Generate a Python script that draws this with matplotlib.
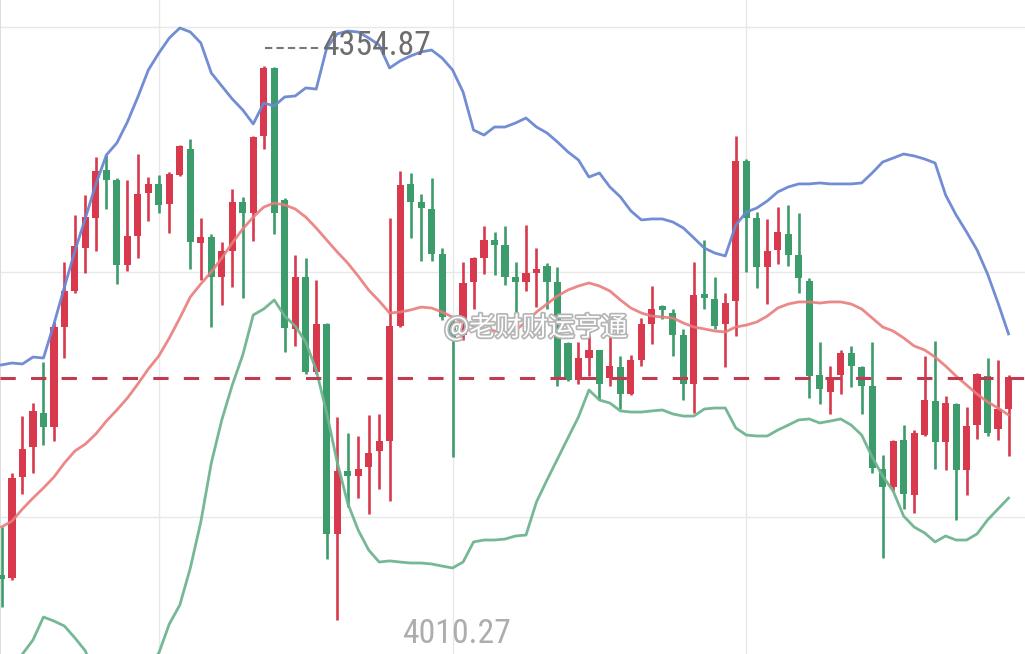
import matplotlib
matplotlib.use("Agg")
import matplotlib.pyplot as plt
import matplotlib.patheffects as pe
from matplotlib import font_manager
import numpy as np

# K线数据 (开/收/高/低), 读自原图
opens = [4038.4, 4036.5, 4099.3, 4118.0, 4139.1, 4130.4, 4192.6, 4215.0, 4241.7, 4260.4,
         4290.3, 4284.0, 4231.2, 4249.2, 4276.0, 4281.6, 4269.1, 4287.1, 4303.3, 4244.9,
         4248.6, 4223.7, 4239.9, 4270.4, 4263.5, 4311.4, 4353.7, 4271.6, 4191.4, 4223.7,
         4164.6, 4194.5, 4063.9, 4103.0, 4099.9, 4105.5, 4115.5, 4121.7, 4193.2, 4281.6,
         4270.4, 4266.0, 4238.0, 4195.7, 4187.6, 4220.6, 4235.5, 4246.7, 4243.6, 4223.7,
         4220.6, 4226.2, 4230.5, 4220.6, 4182.7, 4159.6, 4173.3, 4178.3, 4160.9, 4167.7,
         4150.9, 4172.1, 4194.5, 4205.7, 4201.3, 4187.6, 4157.2, 4213.1, 4210.0, 4194.5,
         4208.8, 4295.9, 4260.4, 4229.9, 4240.5, 4250.5, 4237.4, 4221.2, 4162.7, 4152.2,
         4162.7, 4176.4, 4167.7, 4155.9, 4104.3, 4093.1, 4122.3, 4088.1, 4125.4, 4146.6,
         4121.1, 4144.7, 4103.7, 4131.6, 4162.1, 4129.2, 4141.6]
closes = [4035.9, 4098.7, 4116.7, 4140.4, 4130.4, 4192.6, 4215.0, 4243.0, 4261.0, 4289.6,
          4284.0, 4231.2, 4249.2, 4275.3, 4281.6, 4268.5, 4287.8, 4305.2, 4245.5, 4248.6,
          4223.7, 4239.9, 4270.4, 4263.5, 4310.8, 4353.7, 4263.5, 4192.0, 4223.7, 4164.6,
          4194.5, 4063.9, 4103.0, 4099.9, 4104.3, 4114.2, 4121.7, 4193.2, 4280.9, 4270.4,
          4266.6, 4238.0, 4198.8, 4186.4, 4220.0, 4235.5, 4246.7, 4243.6, 4223.7, 4220.6,
          4226.2, 4228.7, 4220.6, 4160.9, 4159.6, 4173.3, 4178.3, 4157.2, 4168.3, 4150.9,
          4172.1, 4194.5, 4203.8, 4203.2, 4187.6, 4157.2, 4212.5, 4210.6, 4193.2, 4207.5,
          4295.9, 4260.4, 4229.9, 4239.9, 4251.7, 4237.4, 4223.1, 4162.1, 4154.0, 4161.5,
          4176.4, 4168.3, 4155.9, 4104.9, 4093.1, 4121.7, 4088.7, 4126.7, 4147.2, 4121.1,
          4145.3, 4103.7, 4131.0, 4163.4, 4126.7, 4141.6, 4161.5]
highs = [4068.2, 4101.8, 4137.2, 4145.3, 4170.8, 4195.7, 4233.0, 4262.3, 4274.7, 4298.3,
         4299.6, 4285.3, 4284.0, 4300.2, 4285.9, 4287.1, 4289.0, 4305.8, 4309.5, 4260.4,
         4250.5, 4245.5, 4278.4, 4273.5, 4311.4, 4354.87, 4354.3, 4272.8, 4237.4, 4235.5,
         4221.8, 4195.1, 4136.6, 4126.7, 4124.8, 4137.9, 4138.5, 4260.4, 4289.6, 4288.4,
         4275.3, 4285.3, 4241.7, 4198.8, 4233.0, 4236.1, 4255.4, 4251.7, 4255.4, 4233.0,
         4256.0, 4241.7, 4232.4, 4229.9, 4183.3, 4183.3, 4188.3, 4178.3, 4188.3, 4174.6,
         4175.2, 4198.2, 4218.1, 4206.3, 4203.8, 4191.4, 4233.0, 4246.7, 4223.7, 4213.8,
         4311.4, 4297.1, 4264.1, 4259.8, 4267.2, 4268.5, 4263.5, 4223.1, 4183.3, 4168.3,
         4178.3, 4180.8, 4168.3, 4183.3, 4113.0, 4122.3, 4131.6, 4128.5, 4174.6, 4183.9,
         4149.7, 4145.3, 4142.8, 4164.0, 4173.3, 4172.1, 4162.7]
lows = [4018.4, 4035.2, 4088.7, 4101.8, 4119.2, 4121.7, 4173.3, 4213.8, 4226.2, 4239.9,
        4266.0, 4219.4, 4227.4, 4235.5, 4258.5, 4263.5, 4251.1, 4286.5, 4228.7, 4221.8,
        4192.6, 4206.3, 4217.5, 4210.6, 4246.1, 4303.3, 4250.5, 4177.1, 4180.8, 4163.4,
        4163.4, 4048.3, 4010.27, 4080.6, 4086.2, 4076.3, 4091.8, 4084.4, 4192.6, 4248.0,
        4233.7, 4233.7, 4197.0, 4111.7, 4184.5, 4203.8, 4225.6, 4224.9, 4218.7, 4201.3,
        4215.0, 4205.0, 4203.8, 4155.9, 4159.0, 4157.2, 4162.1, 4147.2, 4155.9, 4141.6,
        4150.3, 4168.3, 4182.0, 4197.6, 4174.6, 4147.2, 4139.1, 4203.8, 4191.4, 4167.7,
        4187.0, 4226.8, 4216.9, 4206.9, 4231.8, 4230.5, 4213.8, 4148.4, 4144.7, 4138.5,
        4150.9, 4155.3, 4138.5, 4101.8, 4048.9, 4090.6, 4079.4, 4076.9, 4124.8, 4104.3,
        4103.7, 4072.6, 4088.1, 4122.9, 4124.8, 4122.3, 4112.4]

# 布林带 上轨/中轨/下轨
upper = [4169.0, 4170.2, 4169.6, 4173.9, 4173.3, 4194.5, 4217.5, 4239.9, 4260.4, 4281.6,
         4299.6, 4307.1, 4320.1, 4335.7, 4352.5, 4363.0, 4372.4, 4378.6, 4376.1, 4369.3,
         4350.6, 4342.5, 4334.4, 4327.6, 4318.9, 4331.9, 4330.1, 4335.7, 4336.3, 4341.3,
         4340.6, 4366.1, 4374.9, 4376.7, 4376.1, 4372.4, 4368.0, 4353.7, 4358.1, 4361.2,
         4363.7, 4364.9, 4359.9, 4352.5, 4338.8, 4315.1, 4312.0, 4317.0, 4317.0, 4319.5,
         4322.6, 4317.0, 4313.3, 4307.7, 4301.5, 4296.5, 4285.9, 4288.4, 4279.7, 4273.5,
         4264.8, 4259.2, 4259.8, 4259.8, 4257.9, 4254.2, 4248.0, 4241.7, 4238.6, 4236.8,
         4256.0, 4264.1, 4266.6, 4271.0, 4276.6, 4279.7, 4281.6, 4281.6, 4282.2, 4281.6,
         4281.6, 4281.6, 4282.2, 4288.4, 4295.2, 4297.7, 4300.2, 4299.0, 4297.1, 4294.6,
         4274.7, 4262.3, 4251.7, 4240.5, 4225.6, 4207.5, 4188.3]
mid = [4068.2, 4071.9, 4079.4, 4086.2, 4092.5, 4099.3, 4108.0, 4115.5, 4119.8, 4126.1,
       4134.1, 4141.0, 4148.4, 4157.2, 4166.5, 4174.6, 4185.8, 4198.2, 4211.3, 4219.4,
       4226.8, 4235.5, 4244.9, 4253.6, 4261.0, 4267.2, 4269.7, 4268.5, 4266.0, 4261.0,
       4254.2, 4246.7, 4239.3, 4232.4, 4224.3, 4215.6, 4208.8, 4201.3, 4201.9, 4203.2,
       4205.0, 4204.4, 4201.9, 4198.8, 4195.7, 4193.2, 4192.0, 4190.1, 4189.5, 4190.7,
       4195.7, 4201.9, 4206.9, 4211.9, 4215.6, 4218.1, 4220.0, 4218.1, 4215.0, 4209.4,
       4204.4, 4201.3, 4199.4, 4198.8, 4198.2, 4195.1, 4192.6, 4191.4, 4190.1, 4189.5,
       4192.6, 4193.8, 4195.7, 4199.4, 4204.4, 4206.9, 4208.2, 4208.2, 4207.5, 4208.2,
       4208.2, 4206.9, 4203.8, 4198.2, 4192.6, 4190.1, 4185.8, 4180.8, 4178.3, 4173.9,
       4168.3, 4162.1, 4156.5, 4150.9, 4146.0, 4142.2, 4137.9]
lower = [3967.4, 3973.7, 3989.2, 3997.9, 4012.2, 4009.7, 4006.6, 3999.2, 3991.1, 3973.0,
         3966.8, 3969.9, 3973.0, 3978.0, 3982.4, 3989.8, 4007.9, 4019.7, 4042.7, 4071.3,
         4108.0, 4134.8, 4156.5, 4175.2, 4200.1, 4203.8, 4209.4, 4199.4, 4193.2, 4183.3,
         4165.9, 4139.1, 4108.6, 4083.1, 4066.3, 4053.9, 4046.4, 4047.1, 4046.4, 4045.8,
         4045.8, 4045.2, 4043.9, 4042.7, 4046.4, 4058.9, 4060.1, 4060.1, 4060.7, 4062.6,
         4063.2, 4083.8, 4097.4, 4110.5, 4123.6, 4136.6, 4153.4, 4147.2, 4145.3, 4140.4,
         4139.7, 4139.7, 4140.4, 4141.0, 4138.5, 4137.2, 4137.2, 4141.6, 4142.2, 4142.2,
         4129.8, 4125.4, 4124.8, 4124.8, 4128.5, 4131.6, 4134.8, 4135.4, 4132.9, 4134.1,
         4135.4, 4131.6, 4125.4, 4111.7, 4099.9, 4090.6, 4075.0, 4068.2, 4064.5, 4058.9,
         4062.6, 4060.1, 4060.1, 4063.9, 4072.6, 4079.4, 4086.2]

ref_price = 4160.9          # 红色虚线
max_label = "4354.87"
min_label = "4010.27"
watermark = "@老财财运亨通"

RED = "#d8394d"
GREEN = "#3d9c6b"

# 找一个窄体字, 没有就用 DejaVu Sans
installed = {f.name for f in font_manager.fontManager.ttflist}
num_font = "DejaVu Sans"
for name in ["Roboto Condensed", "Liberation Sans Narrow", "Open Sans Condensed",
             "Noto Sans Condensed", "DejaVu Sans Condensed"]:
    if name in installed:
        num_font = name
        break

o = np.array(opens)
c = np.array(closes)
x = np.arange(len(o))
up = c >= o
col = np.where(up, RED, GREEN)

fig = plt.figure(figsize=(10.25, 6.54), dpi=100)
ax = fig.add_axes([0, 0, 1, 1])
ax.set_xlim(-0.143, 97.57)
ax.set_ylim(3989.2, 4396.0)

# 网格
ax.set_xticks([15, 43, 71])
ax.set_yticks([4379.2, 4226.8, 4074.4])
ax.grid(True, color="#e8e8e8", lw=1)
ax.tick_params(length=0, labelleft=False, labelbottom=False)
for s in ["top", "right", "bottom"]:
    ax.spines[s].set_visible(False)
ax.spines["left"].set_color("#dddddd")
ax.set_axisbelow(True)

# K线
ax.vlines(x, lows, highs, colors=col, lw=1.9, zorder=2)
body_bottom = np.minimum(o, c)
body_h = np.maximum(np.abs(c - o), 0.8)
ax.bar(x, body_h, bottom=body_bottom, width=0.68, color=col, zorder=3, linewidth=0)

# 布林带
ax.plot(x, upper, color="#6a87d2", lw=2.0, zorder=4, alpha=0.95)
ax.plot(x, mid, color="#e97c7c", lw=2.0, zorder=4, alpha=0.9)
ax.plot(x, lower, color="#6fb48f", lw=2.0, zorder=4, alpha=0.95)

ax.axhline(ref_price, color="#c03a50", lw=2.2, dashes=(5, 5), zorder=5)

# 最高/最低标注
hi_i = int(np.argmax(highs))
ax.plot([hi_i + 0.1, hi_i + 5.4], [highs[hi_i] + 11.5] * 2, color="#777777",
        lw=1.5, dashes=(3.5, 2), zorder=6)
t_hi = ax.text(hi_i + 5.6, highs[hi_i] + 12.5, max_label, color="#6e6e6e", fontsize=26,
               family=num_font, va="center", ha="left", zorder=6)
lo_i = int(np.argmin(lows))
t_lo = ax.text(lo_i + 6.2, lows[lo_i] - 8.5, min_label, color="#8a8a8a", fontsize=26,
               alpha=0.7, family=num_font, va="center", ha="left", zorder=6)

# 字宽对齐原图 (约 109 像素)
r = fig.canvas.get_renderer()
w = t_hi.get_window_extent(r).width
size = min(26, 26 * 109 / w)
t_hi.set_fontsize(size)
t_lo.set_fontsize(size)

# 水印
ax.text(42.2, 4192.0, watermark, fontsize=19, color="white",
        family=["Noto Sans CJK SC", "DejaVu Sans"], va="center", ha="left", zorder=7,
        path_effects=[pe.withStroke(linewidth=2.5, foreground="#b5b5b5")])

fig.savefig("out.png", dpi=100)
